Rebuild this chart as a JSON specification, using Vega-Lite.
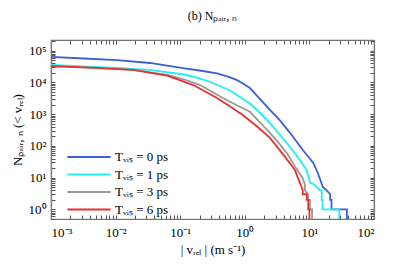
{
 "$schema": "https://vega.github.io/schema/vega-lite/v6.json",
 "width": 323, "height": 179,
 "autosize": "none",
 "padding": {"left": 51, "top": 40, "right": 25, "bottom": 59},
 "title": {"text": "(b) Nₚₐᵢᵣ, ₙ", "font": "Liberation Serif", "fontSize": 12, "fontWeight": "normal", "offset": 12, "color": "black"},
 "config": {"view": {"stroke": "#777", "strokeWidth": 1.2}, "font": "Liberation Serif",
   "axis": {"domainColor": "#777", "tickColor": "#555", "domainWidth": 1.2, "grid": false, "labelFont": "Liberation Serif", "labelFontSize": 13, "labelColor": "black", "titleFont": "Liberation Serif", "titleFontSize": 13, "titleFontWeight": "normal", "titleColor": "black", "labelOverlap": false, "tickCount": 40, "tickWidth": 1}},
 "datasets": {"d": [
  {"s":"Tᵥᵢₛ = 0 ps","i":1,"v":0.001,"n":63000},{"s":"Tᵥᵢₛ = 0 ps","i":2,"v":0.0032,"n":56000},{"s":"Tᵥᵢₛ = 0 ps","i":3,"v":0.0105,"n":50000},{"s":"Tᵥᵢₛ = 0 ps","i":4,"v":0.034,"n":40500},{"s":"Tᵥᵢₛ = 0 ps","i":5,"v":0.11,"n":27700},{"s":"Tᵥᵢₛ = 0 ps","i":6,"v":0.2,"n":23500},{"s":"Tᵥᵢₛ = 0 ps","i":7,"v":0.37,"n":19200},{"s":"Tᵥᵢₛ = 0 ps","i":8,"v":0.55,"n":15000},{"s":"Tᵥᵢₛ = 0 ps","i":9,"v":0.76,"n":11700},{"s":"Tᵥᵢₛ = 0 ps","i":10,"v":0.95,"n":9000},{"s":"Tᵥᵢₛ = 0 ps","i":11,"v":1.2,"n":6600},{"s":"Tᵥᵢₛ = 0 ps","i":12,"v":1.6,"n":3500},{"s":"Tᵥᵢₛ = 0 ps","i":13,"v":2.45,"n":1350},{"s":"Tᵥᵢₛ = 0 ps","i":14,"v":3.5,"n":630},{"s":"Tᵥᵢₛ = 0 ps","i":15,"v":5.0,"n":257},{"s":"Tᵥᵢₛ = 0 ps","i":16,"v":7.9,"n":74},{"s":"Tᵥᵢₛ = 0 ps","i":17,"v":11.5,"n":29},{"s":"Tᵥᵢₛ = 0 ps","i":18,"v":13.5,"n":14},{"s":"Tᵥᵢₛ = 0 ps","i":19,"v":16.2,"n":5},{"s":"Tᵥᵢₛ = 0 ps","i":20,"v":18.5,"n":4},{"s":"Tᵥᵢₛ = 0 ps","i":21,"v":21,"n":3},{"s":"Tᵥᵢₛ = 0 ps","i":22,"v":21,"n":2},{"s":"Tᵥᵢₛ = 0 ps","i":23,"v":22,"n":2},{"s":"Tᵥᵢₛ = 0 ps","i":24,"v":22,"n":1},{"s":"Tᵥᵢₛ = 0 ps","i":25,"v":38,"n":1},{"s":"Tᵥᵢₛ = 0 ps","i":26,"v":38,"n":0.5},
  {"s":"Tᵥᵢₛ = 1 ps","i":1,"v":0.001,"n":35000},{"s":"Tᵥᵢₛ = 1 ps","i":2,"v":0.0032,"n":31500},{"s":"Tᵥᵢₛ = 1 ps","i":3,"v":0.0105,"n":28600},{"s":"Tᵥᵢₛ = 1 ps","i":4,"v":0.034,"n":24400},{"s":"Tᵥᵢₛ = 1 ps","i":5,"v":0.06,"n":21000},{"s":"Tᵥᵢₛ = 1 ps","i":6,"v":0.11,"n":17900},{"s":"Tᵥᵢₛ = 1 ps","i":7,"v":0.18,"n":14000},{"s":"Tᵥᵢₛ = 1 ps","i":8,"v":0.29,"n":10400},{"s":"Tᵥᵢₛ = 1 ps","i":9,"v":0.59,"n":5500},{"s":"Tᵥᵢₛ = 1 ps","i":10,"v":1.2,"n":2150},{"s":"Tᵥᵢₛ = 1 ps","i":11,"v":1.7,"n":1120},{"s":"Tᵥᵢₛ = 1 ps","i":12,"v":2.45,"n":520},{"s":"Tᵥᵢₛ = 1 ps","i":13,"v":3.5,"n":220},{"s":"Tᵥᵢₛ = 1 ps","i":14,"v":5.0,"n":93},{"s":"Tᵥᵢₛ = 1 ps","i":15,"v":7.1,"n":36},{"s":"Tᵥᵢₛ = 1 ps","i":16,"v":9.1,"n":17},{"s":"Tᵥᵢₛ = 1 ps","i":17,"v":10.2,"n":7},{"s":"Tᵥᵢₛ = 1 ps","i":18,"v":12,"n":6},{"s":"Tᵥᵢₛ = 1 ps","i":19,"v":14.5,"n":4},{"s":"Tᵥᵢₛ = 1 ps","i":20,"v":15.5,"n":4},{"s":"Tᵥᵢₛ = 1 ps","i":21,"v":15.5,"n":2},{"s":"Tᵥᵢₛ = 1 ps","i":22,"v":16,"n":2},{"s":"Tᵥᵢₛ = 1 ps","i":23,"v":16,"n":1},{"s":"Tᵥᵢₛ = 1 ps","i":24,"v":29,"n":1},{"s":"Tᵥᵢₛ = 1 ps","i":25,"v":29,"n":0.5},
  {"s":"Tᵥᵢₛ = 3 ps","i":1,"v":0.001,"n":33000},{"s":"Tᵥᵢₛ = 3 ps","i":2,"v":0.0045,"n":29000},{"s":"Tᵥᵢₛ = 3 ps","i":3,"v":0.0186,"n":24400},{"s":"Tᵥᵢₛ = 3 ps","i":4,"v":0.063,"n":17000},{"s":"Tᵥᵢₛ = 3 ps","i":5,"v":0.12,"n":12000},{"s":"Tᵥᵢₛ = 3 ps","i":6,"v":0.204,"n":8200},{"s":"Tᵥᵢₛ = 3 ps","i":7,"v":0.457,"n":3200},{"s":"Tᵥᵢₛ = 3 ps","i":8,"v":0.75,"n":1900},{"s":"Tᵥᵢₛ = 3 ps","i":9,"v":1.2,"n":1180},{"s":"Tᵥᵢₛ = 3 ps","i":10,"v":1.7,"n":560},{"s":"Tᵥᵢₛ = 3 ps","i":11,"v":2.45,"n":257},{"s":"Tᵥᵢₛ = 3 ps","i":12,"v":3.4,"n":120},{"s":"Tᵥᵢₛ = 3 ps","i":13,"v":4.47,"n":60},{"s":"Tᵥᵢₛ = 3 ps","i":14,"v":6.0,"n":22},{"s":"Tᵥᵢₛ = 3 ps","i":15,"v":7.8,"n":10},{"s":"Tᵥᵢₛ = 3 ps","i":16,"v":8.5,"n":6},{"s":"Tᵥᵢₛ = 3 ps","i":17,"v":8.5,"n":4},{"s":"Tᵥᵢₛ = 3 ps","i":18,"v":9.5,"n":3},{"s":"Tᵥᵢₛ = 3 ps","i":19,"v":9.5,"n":2},{"s":"Tᵥᵢₛ = 3 ps","i":20,"v":10.2,"n":2},{"s":"Tᵥᵢₛ = 3 ps","i":21,"v":10.2,"n":1},{"s":"Tᵥᵢₛ = 3 ps","i":22,"v":11,"n":1},{"s":"Tᵥᵢₛ = 3 ps","i":23,"v":11,"n":0.5},
  {"s":"Tᵥᵢₛ = 6 ps","i":1,"v":0.001,"n":32400},{"s":"Tᵥᵢₛ = 6 ps","i":2,"v":0.0045,"n":28500},{"s":"Tᵥᵢₛ = 6 ps","i":3,"v":0.0186,"n":24400},{"s":"Tᵥᵢₛ = 6 ps","i":4,"v":0.063,"n":16200},{"s":"Tᵥᵢₛ = 6 ps","i":5,"v":0.1,"n":11500},{"s":"Tᵥᵢₛ = 6 ps","i":6,"v":0.16,"n":8200},{"s":"Tᵥᵢₛ = 6 ps","i":7,"v":0.37,"n":3200},{"s":"Tᵥᵢₛ = 6 ps","i":8,"v":0.6,"n":1700},{"s":"Tᵥᵢₛ = 6 ps","i":9,"v":0.93,"n":940},{"s":"Tᵥᵢₛ = 6 ps","i":10,"v":1.5,"n":430},{"s":"Tᵥᵢₛ = 6 ps","i":11,"v":2.45,"n":178},{"s":"Tᵥᵢₛ = 6 ps","i":12,"v":4.2,"n":45},{"s":"Tᵥᵢₛ = 6 ps","i":13,"v":6.0,"n":17},{"s":"Tᵥᵢₛ = 6 ps","i":14,"v":7.1,"n":7},{"s":"Tᵥᵢₛ = 6 ps","i":15,"v":7.9,"n":4},{"s":"Tᵥᵢₛ = 6 ps","i":16,"v":7.9,"n":3},{"s":"Tᵥᵢₛ = 6 ps","i":17,"v":9.1,"n":3},{"s":"Tᵥᵢₛ = 6 ps","i":18,"v":9.1,"n":2},{"s":"Tᵥᵢₛ = 6 ps","i":19,"v":9.6,"n":2},{"s":"Tᵥᵢₛ = 6 ps","i":20,"v":9.6,"n":1},{"s":"Tᵥᵢₛ = 6 ps","i":21,"v":10,"n":1},{"s":"Tᵥᵢₛ = 6 ps","i":22,"v":10,"n":0.5}
 ]},
 "data": {"name": "d"},
 "layer": [
  {"mark": {"type": "line", "strokeWidth": 1.8, "clip": true},
   "encoding": {
    "x": {"field": "v", "type": "quantitative", "scale": {"type": "log", "domain": [0.001, 100], "nice": false},
      "axis": {"orient": "bottom", "title": "| vᵣₑₗ | (m s⁻¹)", "titlePadding": 4,
        "labelExpr": "abs(log(datum.value)/LN10 - round(log(datum.value)/LN10)) < 0.001 ? '10' + ['⁻³','⁻²','⁻¹','⁰','¹','²','³','⁴','⁵'][round(log(datum.value)/LN10)+3] : ''",
        "tickSize": -4,
        "labelPadding": 11}},
    "y": {"field": "n", "type": "quantitative", "scale": {"type": "log", "domain": [0.5, 214000], "nice": false},
      "axis": {"orient": "left", "title": "Nₚₐᵢᵣ, ₙ (< vᵣₑₗ)", "titlePadding": 4,
        "labelExpr": "abs(log(datum.value)/LN10 - round(log(datum.value)/LN10)) < 0.001 ? '10' + ['⁻³','⁻²','⁻¹','⁰','¹','²','³','⁴','⁵'][round(log(datum.value)/LN10)+3] : ''",
        "tickSize": -4,
        "labelPadding": 9}},
    "color": {"field": "s", "type": "nominal",
      "scale": {"domain": ["Tᵥᵢₛ = 0 ps", "Tᵥᵢₛ = 1 ps", "Tᵥᵢₛ = 3 ps", "Tᵥᵢₛ = 6 ps"], "range": ["#3a5fd8", "#1ef0f0", "#999999", "#e8302e"]},
      "legend": {"title": null, "orient": "none", "legendX": 31, "legendY": 110, "padding": 0, "symbolType": "M-3.6,0L3.6,0", "symbolSize": 144, "symbolStrokeWidth": 2, "labelFont": "Liberation Serif", "labelFontSize": 13, "labelColor": "black", "rowPadding": 3.5, "labelOffset": 19}},
    "order": {"field": "i", "type": "quantitative"}
   }},
  {"mark": {"type": "point", "opacity": 0},
   "encoding": {
    "x": {"field": "v", "type": "quantitative", "scale": {"type": "log", "domain": [0.001, 100], "nice": false},
      "axis": {"orient": "top", "title": null, "labels": false, "tickSize": -4}},
    "y": {"field": "n", "type": "quantitative", "scale": {"type": "log", "domain": [0.5, 214000], "nice": false},
      "axis": {"orient": "right", "title": null, "labels": false, "tickSize": -4}}
   }}
 ],
 "resolve": {"axis": {"x": "independent", "y": "independent"}}
}
